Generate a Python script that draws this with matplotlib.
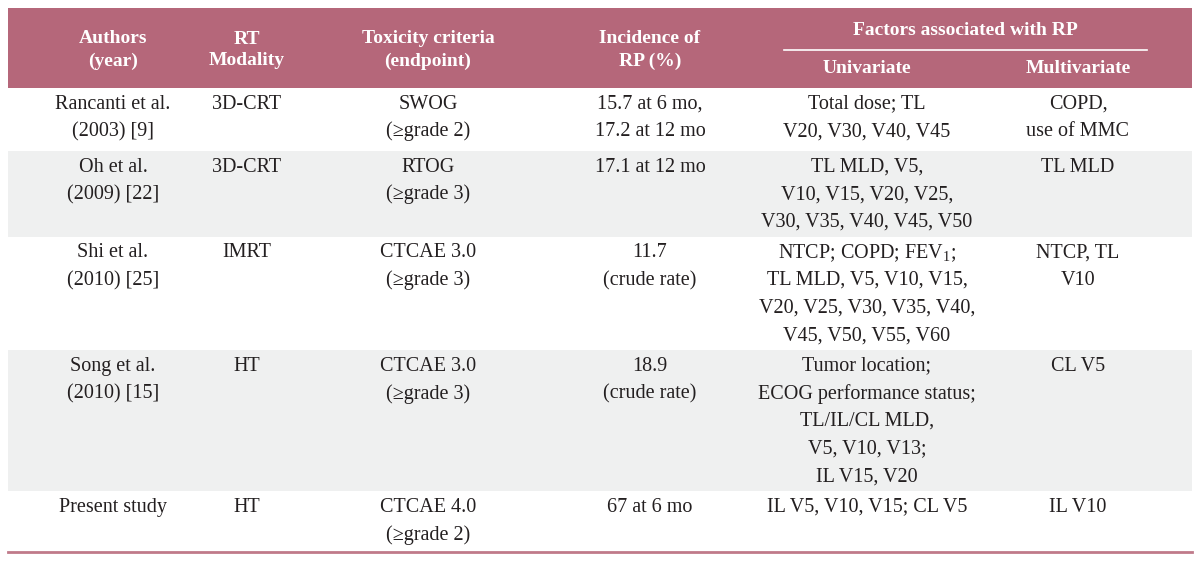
import matplotlib
matplotlib.use("Agg")
from matplotlib import pyplot as plt
from matplotlib.patches import Rectangle

plt.rcParams['font.family'] = ['Liberation Serif', 'DejaVu Serif']
plt.rcParams['mathtext.fontset'] = 'custom'
plt.rcParams['mathtext.rm'] = 'Liberation Serif'
plt.rcParams['mathtext.it'] = 'Liberation Serif:italic'

# table content
authors = ["Rancanti et al.\n(2003) [9]", "Oh et al.\n(2009) [22]", "Shi et al.\n(2010) [25]",
           "Song et al.\n(2010) [15]", "Present study"]
modality = ["3D-CRT", "3D-CRT", "IMRT", "HT", "HT"]
criteria = ["SWOG\n(\u2265grade 2)", "RTOG\n(\u2265grade 3)", "CTCAE 3.0\n(\u2265grade 3)",
            "CTCAE 3.0\n(\u2265grade 3)", "CTCAE 4.0\n(\u2265grade 2)"]
incidence = ["15.7 at 6 mo,\n17.2 at 12 mo", "17.1 at 12 mo", "11.7\n(crude rate)",
             "18.9\n(crude rate)", "67 at 6 mo"]
univariate = ["Total dose; TL\nV20, V30, V40, V45",
              "TL MLD, V5,\nV10, V15, V20, V25,\nV30, V35, V40, V45, V50",
              "NTCP; COPD; FEV$_1$;\nTL MLD, V5, V10, V15,\nV20, V25, V30, V35, V40,\nV45, V50, V55, V60",
              "Tumor location;\nECOG performance status;\nTL/IL/CL MLD,\nV5, V10, V13;\nIL V15, V20",
              "IL V5, V10, V15; CL V5"]
multivariate = ["COPD,\nuse of MMC", "TL MLD", "NTCP, TL\nV10", "CL V5", "IL V10"]

columns = [authors, modality, criteria, incidence, univariate, multivariate]
col_x = [113, 247, 428, 650, 867, 1078]

header_bg = "#B5677A"
stripe = "#EFF0F0"
ink = "#231F20"

fig = plt.figure(figsize=(12, 5.61), dpi=100)
ax = fig.add_axes([0, 0, 1, 1])
ax.set_xlim(0, 1200)
ax.set_ylim(561, 0)
ax.axis('off')

left, right = 8, 1192
fs = 14.5
line_h = 27.6

# header
ax.add_patch(Rectangle((left, 8), right - left, 80, color=header_bg, lw=0))
hdr = dict(color='white', fontsize=14, fontweight='bold', ha='center', va='center')
ax.text(col_x[0], 50, "Authors\n(year)", linespacing=1.38, **hdr)
ax.text(col_x[1], 50, "RT\nModality", linespacing=1.38, **hdr)
ax.text(col_x[2], 50, "Toxicity criteria\n(endpoint)", linespacing=1.38, **hdr)
ax.text(col_x[3], 50, "Incidence of\nRP (%)", linespacing=1.38, **hdr)
ax.text(965, 30, "Factors associated with RP", **hdr)
ax.plot([784, 1147], [50, 50], color='white', lw=1.2)
ax.text(col_x[4], 68, "Univariate", **hdr)
ax.text(col_x[5], 68, "Multivariate", **hdr)

# body rows
top = 88
for r in range(len(authors)):
    n = max(len(c[r].split("\n")) for c in columns)
    h = max(line_h * n + 3, 63)
    if r == len(authors) - 1:
        h = 60
    if r % 2 == 1:
        ax.add_patch(Rectangle((left, top), right - left, h, color=stripe, lw=0))
    for cx, col in zip(col_x, columns):
        for i, line in enumerate(col[r].split("\n")):
            ax.text(cx, top + 16 + i * line_h, line, fontsize=fs, color=ink,
                    ha='center', va='center')
    top += h

ax.plot([left, right], [top + 1, top + 1], color="#C07A8A", lw=2)

fig.savefig("out.png", dpi=100)
